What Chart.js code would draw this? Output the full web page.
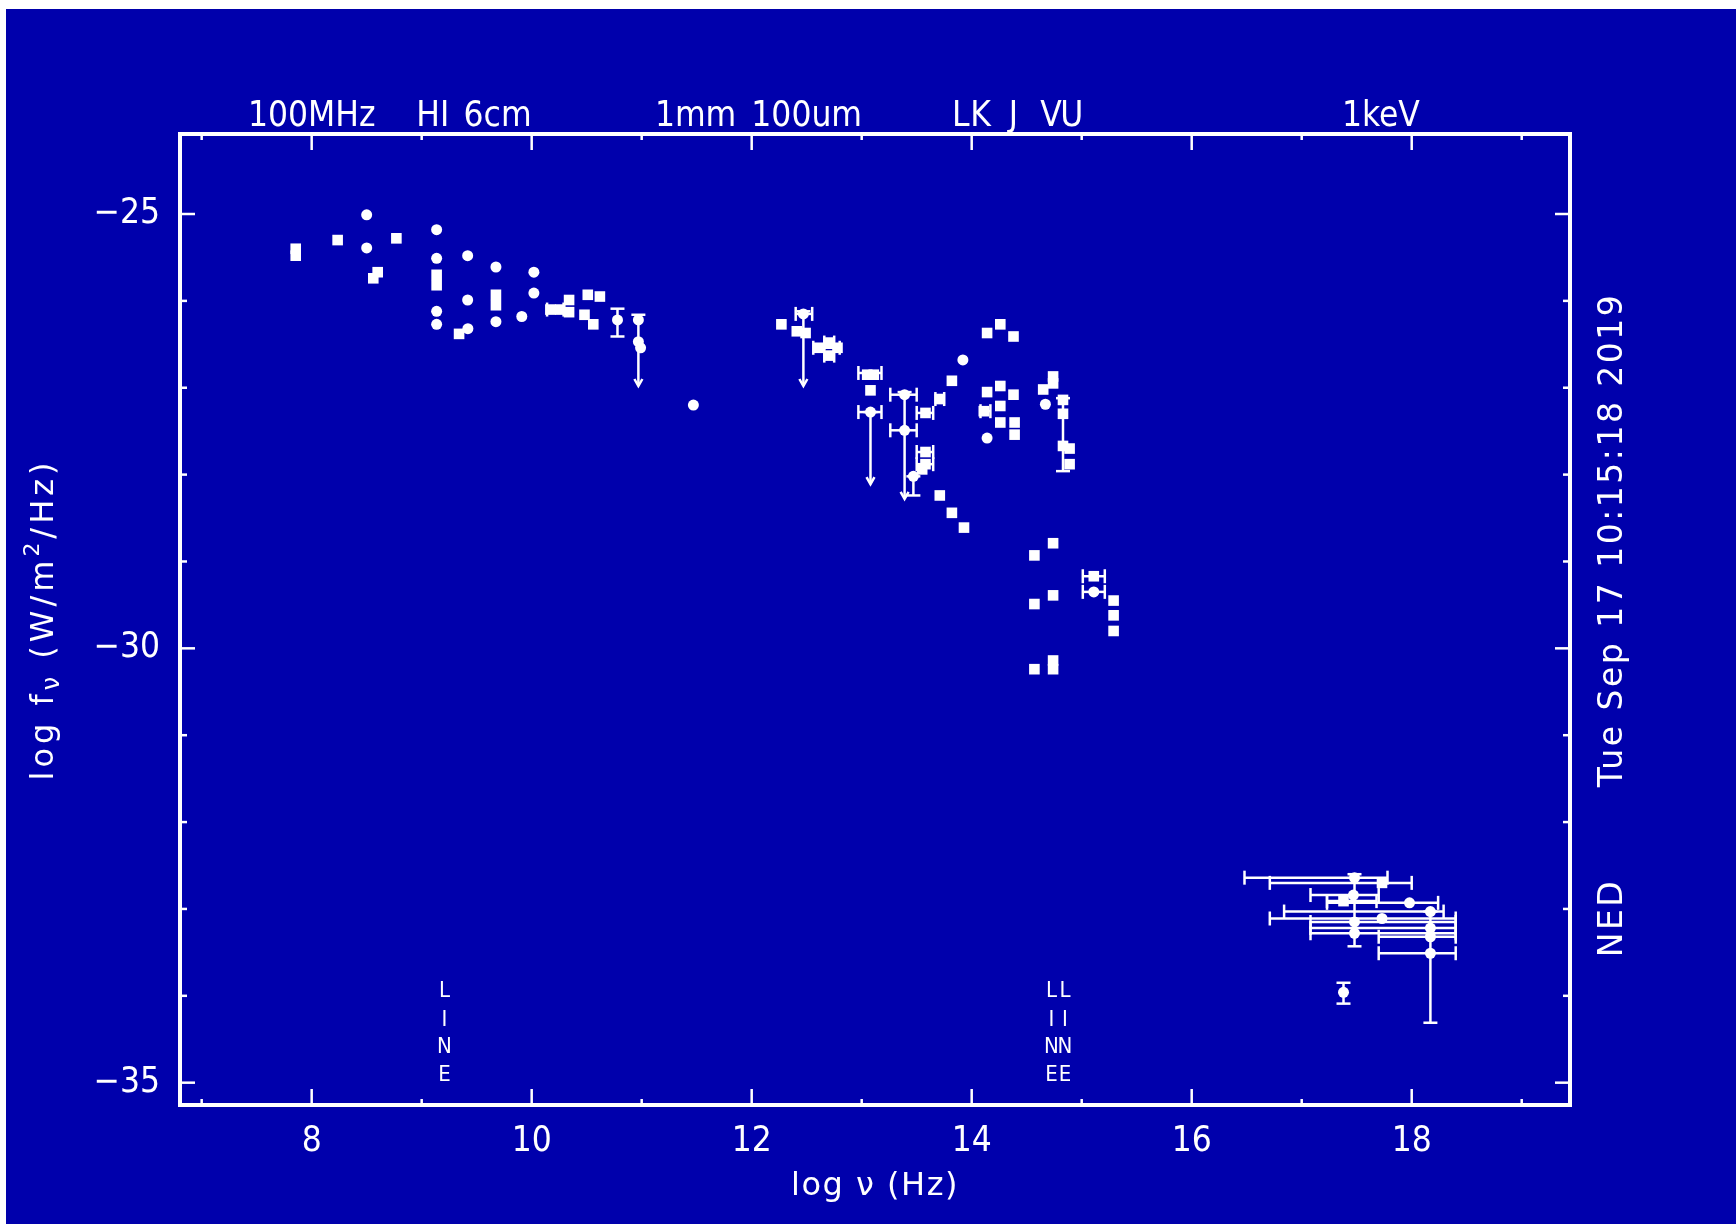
<!DOCTYPE html>
<html>
<head>
<meta charset="utf-8">
<title>NED SED</title>
<script src="https://cdn.jsdelivr.net/npm/chart.js@4.4.1/dist/chart.umd.min.js"></script>
<style>
  html, body { margin: 0; padding: 0; background: #0000ac; overflow: hidden; }
  #wrap { width: 1736px; height: 1224px; position: relative; }
</style>
</head>
<body>
<div id="wrap"><canvas id="sed"></canvas></div>
<script>
// square markers (log nu, log f)
const sqNu = [7.855, 7.855, 8.236, 8.56, 8.60, 8.77, 9.136, 9.136, 9.34, 9.675, 9.675,
  10.17, 10.26, 10.34, 10.34, 10.51, 10.62, 10.48, 10.56,
  12.27, 12.41, 12.49, 12.61, 12.70, 12.70, 12.78,
  13.05, 13.11, 13.08, 13.58, 13.58, 13.55, 13.58, 13.71, 13.82, 13.71, 13.82, 13.93,
  14.14, 14.26, 14.38, 14.14, 14.26, 14.38, 14.11, 14.26, 14.26, 14.39, 14.39,
  14.74, 14.74, 14.65, 14.83, 14.83, 14.83, 14.89, 14.89,
  14.57, 14.74, 14.57, 14.74, 14.57, 14.74, 14.74,
  15.11, 15.29, 15.29, 15.29, 17.73, 17.38]
const sqF = [-25.40, -25.48, -25.30, -25.74, -25.67, -25.28, -25.70, -25.82, -26.38, -25.93, -26.05,
  -26.10, -26.10, -25.99, -26.13, -25.93, -25.95, -26.16, -26.27,
  -26.27, -26.35, -26.37, -26.54, -26.48, -26.63, -26.54,
  -26.85, -26.85, -27.03, -27.74, -27.88, -27.94, -27.29, -27.13, -26.92, -28.24, -28.44, -28.61,
  -26.37, -26.27, -26.41, -27.05, -26.98, -27.08, -27.27, -27.21, -27.40, -27.40, -27.54,
  -26.87, -26.95, -27.02, -27.14, -27.30, -27.67, -27.70, -27.88,
  -28.93, -28.79, -29.49, -29.39, -30.24, -30.14, -30.24,
  -29.17, -29.45, -29.62, -29.80, -32.70, -32.91]

// round markers
const dotNu = [8.50, 8.50, 9.136, 9.136, 9.136, 9.136, 9.418, 9.418, 9.42, 9.675, 9.675, 9.91, 10.02, 10.02,
  10.78, 10.97, 10.97, 10.99, 11.47, 12.47, 13.08, 13.39, 13.39, 13.47, 13.92, 14.14, 14.67, 15.11,
  17.48, 17.47, 17.98, 18.17, 17.73, 17.48, 18.17, 17.48, 18.17, 18.17, 17.38]
const dotF = [-25.01, -25.39, -25.18, -25.51, -26.12, -26.27, -25.48, -25.99, -26.32, -25.61, -26.24, -26.18, -25.67, -25.91,
  -26.22, -26.22, -26.47, -26.54, -27.20, -26.15, -27.28, -27.08, -27.49, -28.02, -26.68, -27.58, -27.19, -29.35,
  -32.64, -32.84, -32.93, -33.03, -33.11, -33.15, -33.22, -33.28, -33.32, -33.51, -33.96]

// vertical error bars
const vNu = [10.78, 10.97, 12.47, 13.08, 13.39, 13.47, 14.83, 17.48, 18.17, 17.38]
const vLo = [-26.41, -26.98, -26.98, -28.11, -28.28, -28.24, -27.96, -33.43, -34.31, -34.09]
const vHi = [-26.09, -26.16, -26.12, -27.28, -27.05, -28.02, -27.12, -32.60, -33.03, -33.85]

// upper limits (arrow heads)
const limNu = [10.97, 12.47, 13.08, 13.39]
const limF = [-26.98, -26.98, -28.11, -28.28]

// horizontal error bars
const hF = [-26.10, -26.15, -26.54, -26.48, -26.63, -26.83, -27.28, -27.08, -27.49, -27.29, -27.74, -27.88, -27.13, -27.27,
  -29.17, -29.35,
  -32.64, -32.70, -32.84, -32.91, -32.93, -33.03, -33.11, -33.15, -33.22, -33.28, -33.32, -33.51]
const hLo = [10.14, 12.40, 12.56, 12.66, 12.66, 12.97, 12.97, 13.26, 13.26, 13.50, 13.50, 13.50, 13.67, 14.08,
  15.01, 15.01,
  16.48, 16.71, 17.08, 17.23, 17.23, 16.84, 16.71, 17.08, 17.08, 17.08, 17.70, 17.70]
const hHi = [10.29, 12.55, 12.80, 12.75, 12.75, 13.18, 13.18, 13.50, 13.50, 13.65, 13.65, 13.65, 13.75, 14.17,
  15.21, 15.21,
  17.78, 18.00, 17.70, 17.68, 18.24, 18.29, 18.40, 18.40, 18.40, 18.40, 18.40, 18.40]

const xTickVals = [8, 10, 12, 14, 16, 18]
const yTickVals = [-35, -30, -25]
const bandNu = [8.0, 9.10, 9.69, 11.49, 12.50, 13.90, 14.08, 14.38, 14.72, 14.91, 17.72]
const bandText = ['100MHz', 'HI', '6cm', '1mm', '100um', 'L', 'K', 'J', 'V', 'U', '1keV']
const lineNu = [9.207, 14.725, 14.848]
const lineText = ['L', 'I', 'N', 'E']

const BLUE = '#0000ac'
const FG = '#ffffff'
const NARROW = "'Liberation Sans Narrow', 'DejaVu Sans Condensed', 'Liberation Sans', sans-serif"
const WIDE = "'DejaVu Sans', sans-serif"

function toPts(xs, ys) {
  return xs.map((x, i) => ({x: x, y: ys[i]}))
}

function seg(ctx, x1, y1, x2, y2) {
  ctx.beginPath()
  ctx.moveTo(x1, y1)
  ctx.lineTo(x2, y2)
  ctx.stroke()
}

function isLimit(nu, f) {
  return limNu.some((n, i) => n === nu && limF[i] === f)
}

// draws text made of pieces, some sub/superscript, centred on cx, cy
function richText(ctx, parts, cx, cy, rot, spacing) {
  ctx.save()
  ctx.translate(cx, cy)
  ctx.rotate(rot)
  ctx.fillStyle = FG
  ctx.letterSpacing = spacing + 'px'
  ctx.textBaseline = 'middle'
  ctx.textAlign = 'left'
  let total = 0
  for (const p of parts) {
    ctx.font = p.size + 'px ' + WIDE
    total += ctx.measureText(p.t).width
  }
  let x = -total / 2
  for (const p of parts) {
    ctx.font = p.size + 'px ' + WIDE
    ctx.fillText(p.t, x, p.dy || 0)
    x += ctx.measureText(p.t).width
  }
  ctx.restore()
}

const nedFrame = {
  id: 'nedFrame',
  beforeDraw(chart) {
    const ctx = chart.ctx
    ctx.save()
    ctx.fillStyle = BLUE
    ctx.fillRect(0, 0, chart.width, chart.height)
    ctx.fillStyle = FG
    ctx.fillRect(0, 0, chart.width, 9)
    ctx.fillRect(0, 0, 6, chart.height)
    ctx.restore()
  },
  beforeDatasetsDraw(chart) {
    const ctx = chart.ctx
    const x = chart.scales.x, y = chart.scales.y
    ctx.save()
    ctx.strokeStyle = FG
    ctx.lineWidth = 2.5
    vNu.forEach((nu, i) => {
      const px = x.getPixelForValue(nu)
      const pLo = y.getPixelForValue(vLo[i]), pHi = y.getPixelForValue(vHi[i])
      seg(ctx, px, pLo, px, pHi)
      seg(ctx, px - 7, pHi, px + 7, pHi)
      if (!isLimit(nu, vLo[i])) seg(ctx, px - 7, pLo, px + 7, pLo)
    })
    limNu.forEach((nu, i) => {
      const px = x.getPixelForValue(nu), py = y.getPixelForValue(limF[i])
      ctx.beginPath()
      ctx.moveTo(px - 4, py - 7)
      ctx.lineTo(px, py)
      ctx.lineTo(px + 4, py - 7)
      ctx.stroke()
    })
    hF.forEach((f, i) => {
      const py = y.getPixelForValue(f)
      const a = x.getPixelForValue(hLo[i]), b = x.getPixelForValue(hHi[i])
      seg(ctx, a, py, b, py)
      seg(ctx, a, py - 7, a, py + 7)
      seg(ctx, b, py - 7, b, py + 7)
    })
    ctx.restore()
  },
  afterDraw(chart) {
    const ctx = chart.ctx
    const x = chart.scales.x, y = chart.scales.y
    const a = chart.chartArea
    ctx.save()
    ctx.strokeStyle = FG
    ctx.lineWidth = 4
    ctx.strokeRect(a.left, a.top, a.right - a.left, a.bottom - a.top)
    ctx.lineWidth = 2.5
    for (let v = Math.ceil(x.min); v <= x.max; v++) {
      const px = x.getPixelForValue(v)
      const len = v % 2 === 0 ? 16 : 6
      seg(ctx, px, a.bottom, px, a.bottom - len)
      seg(ctx, px, a.top, px, a.top + len)
    }
    for (let v = Math.ceil(y.min); v <= y.max; v++) {
      const py = y.getPixelForValue(v)
      const len = v % 5 === 0 ? 15 : 7
      seg(ctx, a.left, py, a.left + len, py)
      seg(ctx, a.right, py, a.right - len, py)
    }

    ctx.fillStyle = FG
    // LINE markers along the bottom
    ctx.font = '22px ' + NARROW
    ctx.textAlign = 'center'
    ctx.textBaseline = 'middle'
    const rows = [114, 85, 58, 30]
    lineNu.forEach(nu => {
      const px = x.getPixelForValue(nu)
      lineText.forEach((t, k) => ctx.fillText(t, px, a.bottom - rows[k]))
    })
    ctx.restore()

    // axis titles
    richText(ctx, [{t: 'log f', size: 32}, {t: 'ν', size: 24, dy: 8}, {t: ' (W/m', size: 32},
      {t: '2', size: 22, dy: -12}, {t: '/Hz)', size: 32}], 45, (a.top + a.bottom) / 2, -Math.PI / 2, 4)
    richText(ctx, [{t: 'log ν (Hz)', size: 32}], (a.left + a.right) / 2, 1187, 0, 1.5)
    richText(ctx, [{t: 'Tue Sep 17 10:15:18 2019', size: 33}], 1613, 540, -Math.PI / 2, 2.5)
    richText(ctx, [{t: 'NED', size: 33}], 1613, 918, -Math.PI / 2, 2.5)
  }
}

const tickFont = {family: NARROW, size: 35}

new Chart(document.getElementById('sed'), {
  type: 'scatter',
  data: {
    datasets: [
      {
        label: 'square',
        data: toPts(sqNu, sqF),
        pointStyle: 'rect',
        pointRadius: 7.5,
        borderWidth: 0,
        backgroundColor: FG,
        xAxisID: 'x',
        yAxisID: 'y'
      },
      {
        label: 'round',
        data: toPts(dotNu, dotF),
        pointStyle: 'circle',
        pointRadius: 5.5,
        borderWidth: 0,
        backgroundColor: FG,
        xAxisID: 'x',
        yAxisID: 'y'
      }
    ]
  },
  options: {
    responsive: true,
    maintainAspectRatio: false,
    devicePixelRatio: 1,
    animation: false,
    layout: {padding: 0},
    plugins: {legend: {display: false}, tooltip: {enabled: false}},
    scales: {
      x: {
        type: 'linear', position: 'bottom', min: 6.803, max: 19.439,
        afterFit: s => { s.height = 119 },
        afterBuildTicks: s => { s.ticks = xTickVals.map(v => ({value: v})) },
        grid: {display: false, drawTicks: false},
        border: {display: false},
        ticks: {color: FG, font: tickFont, padding: 16, maxRotation: 0, autoSkip: false,
          callback: v => String(v)}
      },
      x2: {
        type: 'linear', position: 'top', min: 6.803, max: 19.439,
        afterFit: s => { s.height = 134 },
        afterBuildTicks: s => { s.ticks = bandNu.map(v => ({value: v})) },
        grid: {display: false, drawTicks: false},
        border: {display: false},
        ticks: {color: FG, font: tickFont, padding: -4, maxRotation: 0, autoSkip: false,
          callback: (v, i) => bandText[i]}
      },
      y: {
        type: 'linear', position: 'left', min: -35.257, max: -24.079,
        afterFit: s => { s.width = 180 },
        afterBuildTicks: s => { s.ticks = yTickVals.map(v => ({value: v})) },
        grid: {display: false, drawTicks: false},
        border: {display: false},
        ticks: {color: FG, font: tickFont, padding: 20, autoSkip: false,
          callback: v => '\u2212' + Math.abs(v)}
      },
      y2: {
        type: 'linear', position: 'right', min: -35.257, max: -24.079,
        afterFit: s => { s.width = 166 },
        afterBuildTicks: s => { s.ticks = [] },
        grid: {display: false, drawTicks: false},
        border: {display: false},
        ticks: {display: false}
      }
    }
  },
  plugins: [nedFrame]
})
</script>
</body>
</html>
